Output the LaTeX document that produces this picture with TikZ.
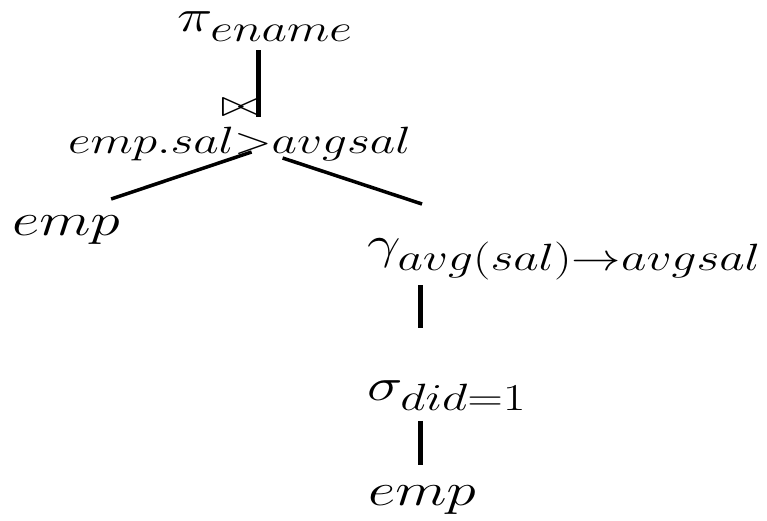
\documentclass[tikz,border=0pt]{standalone}
\usepackage{fix-cm}
\usepackage{amsmath}
\usetikzlibrary{calc}
\DeclareMathSizes{46}{46}{38}{29}
\tikzset{
  lbl/.style={inner sep=0pt, anchor=base west, font=\fontsize{46}{50}\selectfont},
  cnd/.style={inner sep=0pt, anchor=base west, font=\fontsize{38}{42}\selectfont},
  stem/.style={line width=5pt},
  branch/.style={line width=3.5pt},
}
\newcommand{\wide}[1]{\scalebox{1.3}[1]{#1}}

\begin{document}
\begin{tikzpicture}[x=1pt,y=-1pt]
    \useasboundingbox (0,0) rectangle (767,520);

    % operators, top to bottom
    \node[lbl] (proj) at (177,31) {\wide{$\pi_{\lower4pt\hbox{$\scriptstyle ename$}}$}};
    \node[cnd, anchor=center] (join) at (241,108) {\wide{$\bowtie$}};
    \node[cnd] (cond) at (68,153) {\wide{$emp.sal{>}avgsal$}};
    \node[lbl] (emp1) at (12,235) {\wide{$emp$}};
    \node[lbl] (agg) at (367,258) {\wide{$\gamma_{avg(sal)\rightarrow avgsal}$}};
    \node[lbl] (sel) at (367,400) {\wide{$\sigma_{did=1}$}};
    \node[lbl] (emp2) at (368,505) {\wide{$emp$}};

    % tree edges
    \draw[stem] ($(join.east |- proj.south)+(-3,8)$) -- ($(join.south east)+(-3,0)$);
    \draw[branch] ($(emp1.north east)+(-9,-16)$) -- ($(cond.base)+(12,-1)$);
    \draw[branch] ($(cond.base)+(43,5)$) -- ($(agg.north west)+(55,-34)$);
    \draw[stem, shorten <=5pt, shorten >=52pt] ($(agg.south west)+(53,0)$) -- ($(sel.north west)+(53,0)$);
    \draw[stem, shorten <=10pt, shorten >=20pt] ($(sel.south west)+(53,0)$) -- ($(emp2.north west)+(52,0)$);
\end{tikzpicture}
\end{document}
